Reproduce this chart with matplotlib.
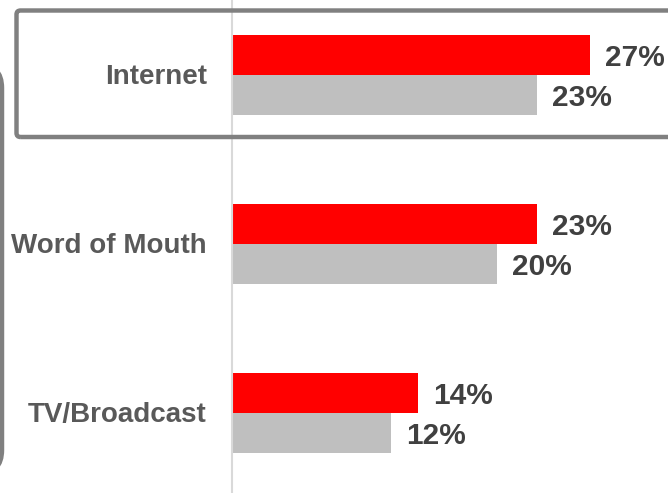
import numpy as np
import matplotlib.pyplot as plt
from matplotlib.patches import FancyBboxPatch

categories = ["Internet", "Word of Mouth", "TV/Broadcast"]
current = [27, 23, 14]
previous = [23, 20, 12]

plt.rcParams['font.family'] = ['Liberation Sans', 'DejaVu Sans']

W, H = 668, 493
fig = plt.figure(figsize=(W / 100, H / 100), dpi=100)
ax = fig.add_axes([232 / W, 0, 1 - 232 / W, 1])

y = np.arange(len(categories))
bh = 0.237
ax.barh(y - bh / 2, current, height=bh, color='#ff0000', zorder=2)
ax.barh(y + bh / 2, previous, height=bh, color='#bfbfbf', zorder=2)

ax.set_xlim(0, 32.9)
ax.set_ylim(2.473, -0.444)

for i in range(len(categories)):
    ax.annotate(f"{current[i]}%", (current[i], i - bh / 2), xytext=(11, -2),
                textcoords='offset points', va='center', ha='left',
                fontsize=21.5, fontweight='bold', color='#404040')
    ax.annotate(f"{previous[i]}%", (previous[i], i + bh / 2), xytext=(11, -2),
                textcoords='offset points', va='center', ha='left',
                fontsize=21.5, fontweight='bold', color='#404040')
    ax.annotate(categories[i], (0, i), xytext=(-18, -1.5),
                textcoords='offset points', va='center', ha='right',
                fontsize=20, fontweight='bold', color='#595959',
                annotation_clip=False)

ax.set_xticks([])
ax.set_yticks([])
for s in ['top', 'right', 'bottom']:
    ax.spines[s].set_visible(False)
ax.spines['left'].set_color('#d9d9d9')
ax.spines['left'].set_linewidth(1.5)


def px_box(x0, y0, x1, y1, r):
    return FancyBboxPatch((x0 / W, 1 - y1 / H), (x1 - x0) / W, (y1 - y0) / H,
                          boxstyle=f"round,pad=0,rounding_size={r / W}",
                          transform=fig.transFigure, fill=False,
                          edgecolor='#808080', linewidth=3.2,
                          mutation_aspect=W / H, zorder=5)


# highlight frame around the top row
fig.patches.append(px_box(16.5, 10.5, 700, 137, 4))
# edge of the side panel
fig.patches.append(px_box(-200, 64, 2, 474, 24))

fig.savefig("out.png", dpi=100)
